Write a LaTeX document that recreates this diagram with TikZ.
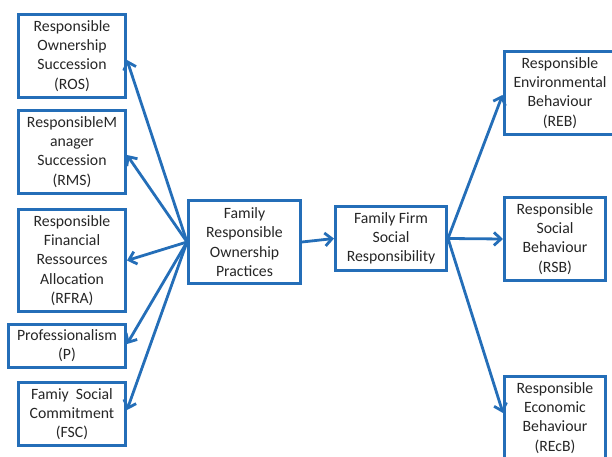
\documentclass[tikz,border=0pt]{standalone}
\usepackage{fontspec}
\setmainfont{Carlito}
\usetikzlibrary{arrows.meta}
\definecolor{frblue}{RGB}{36,110,184}

\begin{document}
\begin{tikzpicture}[x=1bp,y=-1bp,
    practice/.style ={rectangle, draw=frblue, line width=3bp, inner sep=0pt,
      align=center, text=black!85, font=\fontsize{15.8}{19.3}\selectfont},
    link/.style ={draw=frblue, line width=2.8bp, -{Straight Barb[length=7bp,width=13bp]}}]
   \clip (0,0) rectangle (612,457);
   \node[practice, minimum width=107bp, minimum height=83bp] (ROS) at (72,56) {Responsible\\Ownership\\Succession\\(ROS)};
   \node[practice, minimum width=107bp, minimum height=83bp] (RMS) at (72,152) {ResponsibleM\\anager\\Succession\\(RMS)};
   \node[practice, minimum width=107bp, minimum height=102bp] (RFRA) at (72,260.5) {Responsible\\Financial\\Ressources\\Allocation\\(RFRA)};
   \node[practice, minimum width=117bp, minimum height=43bp] (P) at (67,346) {Professionalism\\(P)};
   \node[practice, minimum width=107bp, minimum height=63bp] (FSC) at (72,414) {Famiy\ \ Social\\Commitment\\(FSC)};
   \node[practice, minimum width=112bp, minimum height=83bp] (FROP) at (244.5,242) {Family\\Responsible\\Ownership\\Practices};
   \node[practice, minimum width=111bp, minimum height=64bp] (FFSR) at (391,238.5) {Family Firm\\Social\\Responsibility};
   \node[practice, minimum width=112bp, minimum height=83bp] (REB) at (560,93) {Responsible\\Environmental\\Behaviour\\(REB)};
   \node[practice, minimum width=101bp, minimum height=83bp] (RSB) at (555,239) {Responsible\\Social\\Behaviour\\(RSB)};
   \node[practice, minimum width=101bp, minimum height=83bp] (REcB) at (555,418) {Responsible\\Economic\\Behaviour\\(REcB)};
   \draw[link] (FROP.west) to ([yshift=-4bp]ROS.east);
   \draw[link] (FROP.west) to ([yshift=-3bp]RMS.east);
   \draw[link] (FROP.west) to (RFRA.east);
   \draw[link] (FROP.west) to ([yshift=2bp]P.east);
   \draw[link] (FROP.west) to ([yshift=4bp]FSC.east);
   \draw[link] (FROP.east) to (FFSR.west);
   \draw[link] (FFSR.east) to ([yshift=-2bp]REB.west);
   \draw[link] (FFSR.east) to (RSB.west);
   \draw[link] (FFSR.east) to ([yshift=5bp]REcB.west);
 \end{tikzpicture}
\end{document}
